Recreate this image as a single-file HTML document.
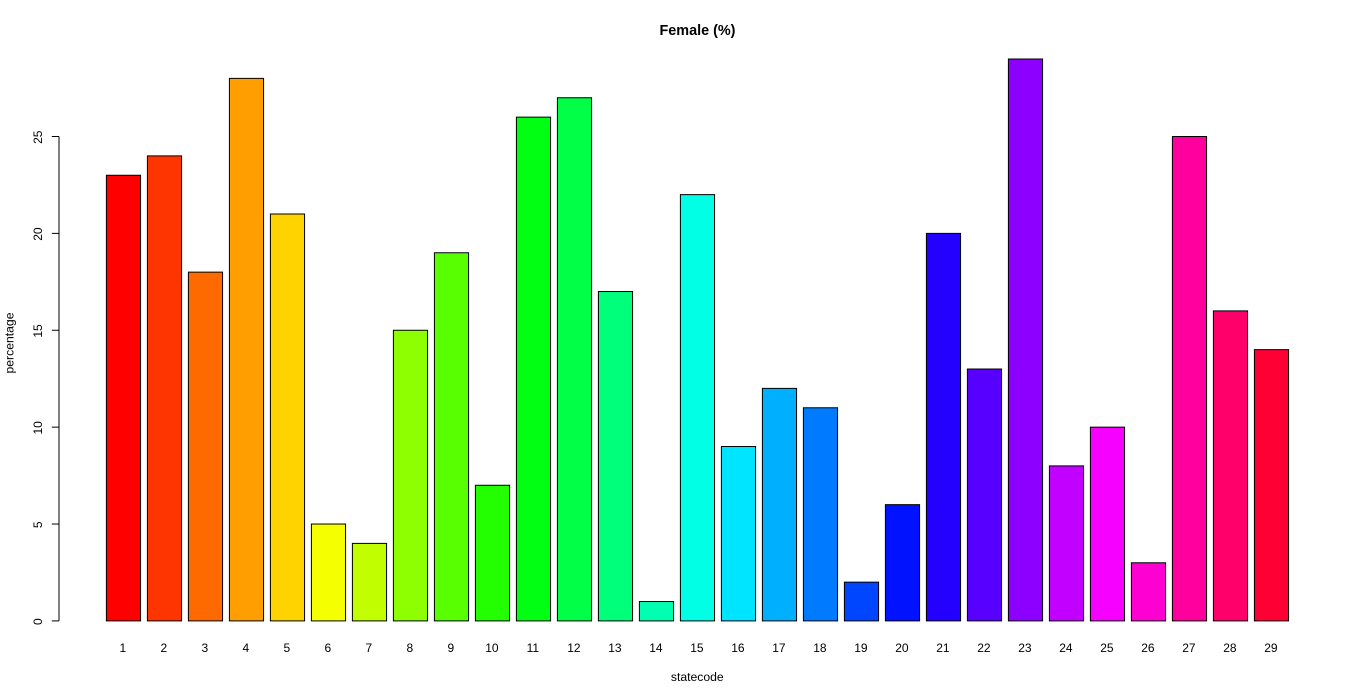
<!DOCTYPE html>
<html lang="en">
<head>
<meta charset="utf-8">
<title>Female (%)</title>
<style>
html,body{margin:0;padding:0;background:#fff;width:1366px;height:700px;overflow:hidden}
svg{display:block}
text{font-family:"Liberation Sans",Arial,sans-serif;fill:#000}
</style>
</head>
<body>
<svg id="chart" xmlns="http://www.w3.org/2000/svg" width="1366" height="700" viewBox="0 0 1366 700">
  <text x="697.5" y="35" text-anchor="middle" font-size="14.4" font-weight="bold">Female (%)</text>
  <text x="697.3" y="681" text-anchor="middle" font-size="12.2">statecode</text>
  <text transform="translate(13.5,343) rotate(-90)" text-anchor="middle" font-size="12.2">percentage</text>
  <g id="bars"></g>
  <g id="x-labels"></g>
  <g id="y-axis"></g>
</svg>
<script>
const categories = [1,2,3,4,5,6,7,8,9,10,11,12,13,14,15,16,17,18,19,20,21,22,23,24,25,26,27,28,29];
const percentages = [23,24,18,28,21,5,4,15,19,7,26,27,17,1,22,9,12,11,2,6,20,13,29,8,10,3,25,16,14];
const yTicks = [0,5,10,15,20,25];

const NS = 'http://www.w3.org/2000/svg';
const firstBarLeft = 106.4;
const barStep = 41;
const barWidth = 34.17;
const yZero = 620.9;
const yUnit = 19.376;
const axisX = 59;

function xLeft(i) { return firstBarLeft + i * barStep; }
function yPos(v) { return yZero - v * yUnit; }
function rainbow(i, n) {
  const h = i / n * 6;
  const k = Math.floor(h);
  const f = h - k;
  const up = Math.round(f * 255);
  const down = 255 - up;
  const table = [[255,up,0],[down,255,0],[0,255,up],[0,down,255],[up,0,255],[255,0,down]];
  const c = table[k % 6];
  return 'rgb(' + c[0] + ',' + c[1] + ',' + c[2] + ')';
}

const barsGroup = document.getElementById('bars');
const xLabelsGroup = document.getElementById('x-labels');
const yAxisGroup = document.getElementById('y-axis');

percentages.forEach(function (value, i) {
  const rect = document.createElementNS(NS, 'rect');
  rect.setAttribute('x', xLeft(i));
  rect.setAttribute('y', yPos(value));
  rect.setAttribute('width', barWidth);
  rect.setAttribute('height', yZero - yPos(value));
  rect.setAttribute('fill', rainbow(i, categories.length));
  rect.setAttribute('stroke', '#000');
  rect.setAttribute('stroke-width', '1');
  
  
  barsGroup.appendChild(rect);

  const label = document.createElementNS(NS, 'text');
  label.setAttribute('x', xLeft(i) + barWidth / 2 - 0.6);
  label.setAttribute('y', 652);
  label.setAttribute('text-anchor', 'middle');
  label.setAttribute('font-size', '12');
  
  
  label.textContent = categories[i];
  xLabelsGroup.appendChild(label);
});

const axisLine = document.createElementNS(NS, 'line');
axisLine.setAttribute('x1', axisX);
axisLine.setAttribute('x2', axisX);
axisLine.setAttribute('y1', yPos(yTicks[0]));
axisLine.setAttribute('y2', yPos(yTicks[yTicks.length - 1]));
axisLine.setAttribute('stroke', '#000');
axisLine.setAttribute('stroke-width', '1');


yAxisGroup.appendChild(axisLine);

yTicks.forEach(function (tick) {
  const mark = document.createElementNS(NS, 'line');
  mark.setAttribute('x1', axisX - 7.2);
  mark.setAttribute('x2', axisX);
  mark.setAttribute('y1', yPos(tick));
  mark.setAttribute('y2', yPos(tick));
  mark.setAttribute('stroke', '#000');
  mark.setAttribute('stroke-width', '1');
  
  
  yAxisGroup.appendChild(mark);

  const label = document.createElementNS(NS, 'text');
  label.setAttribute('transform', 'translate(42,' + (yPos(tick) + 0.7) + ') rotate(-90)');
  label.setAttribute('text-anchor', 'middle');
  label.setAttribute('font-size', '12');
  
  
  label.textContent = tick;
  yAxisGroup.appendChild(label);
});
</script>
</body>
</html>
